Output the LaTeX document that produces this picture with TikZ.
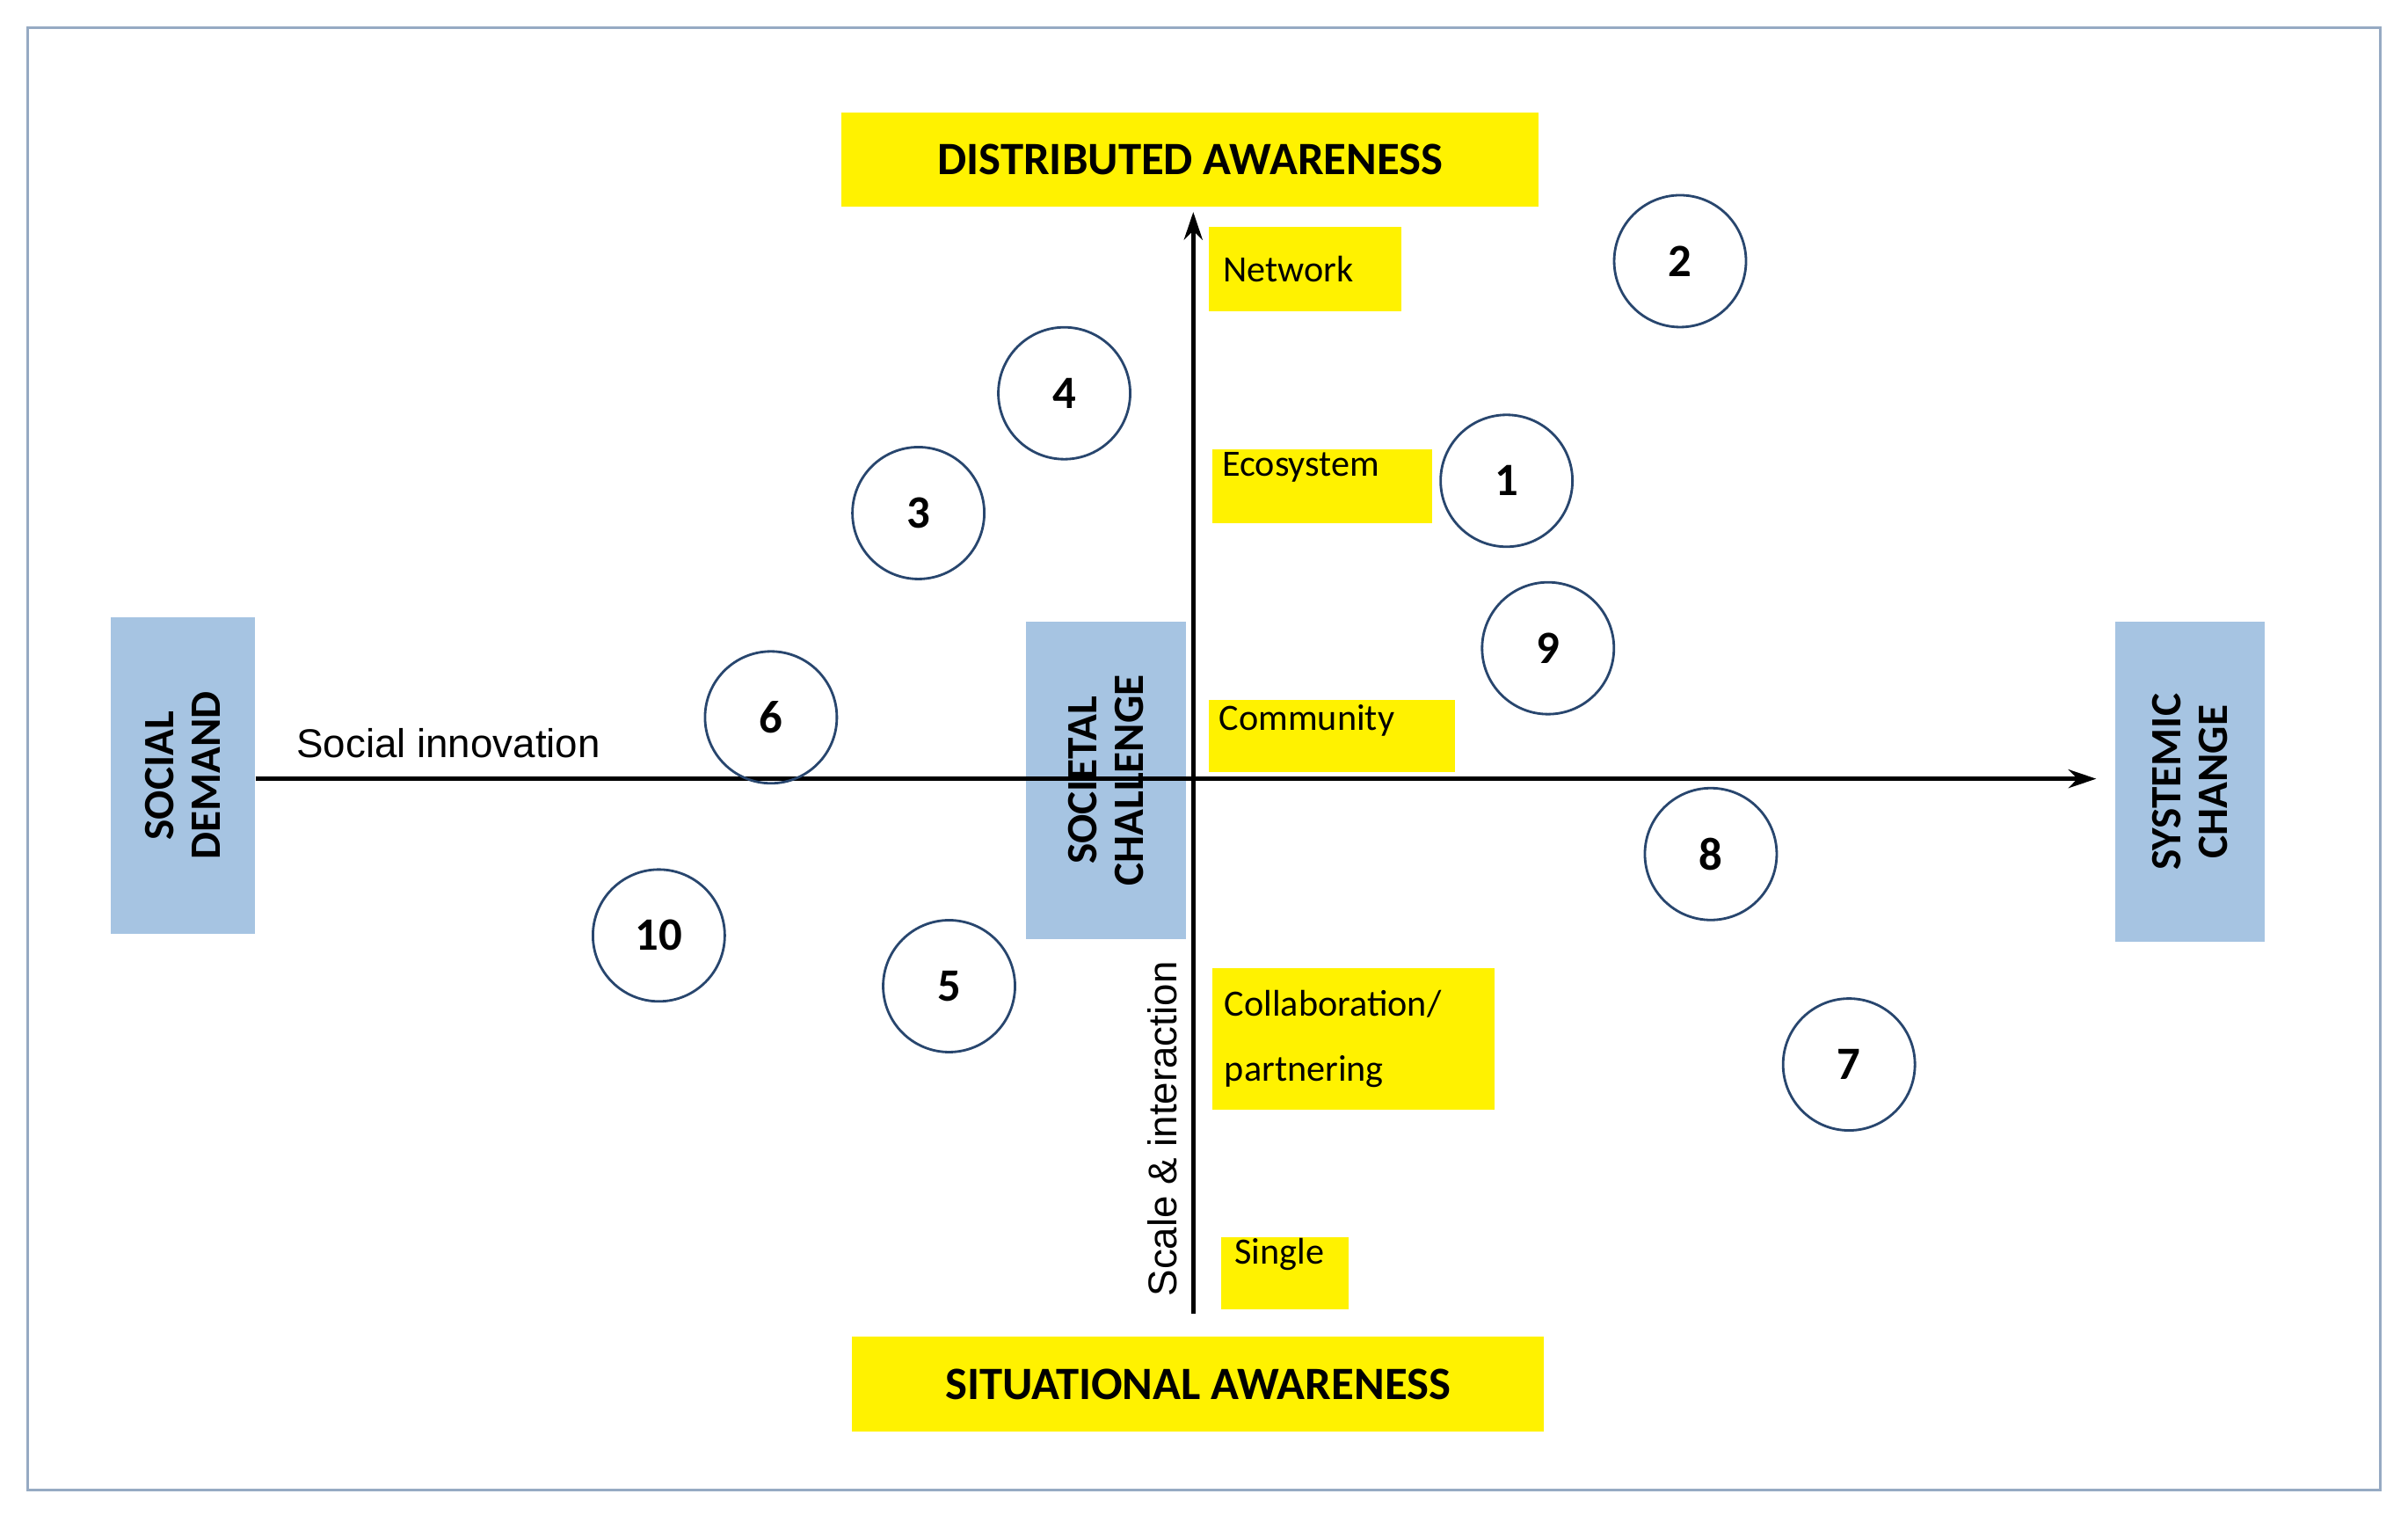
\documentclass[tikz,border=0pt]{standalone}
\usepackage{fontspec}
\setmainfont{Carlito}
\newfontfamily\arialfont{Liberation Sans}
\usetikzlibrary{positioning, arrows.meta}
\definecolor{boxblue}{RGB}{166,196,226}
\definecolor{hiyellow}{RGB}{255,242,0}
\definecolor{ringblue}{RGB}{40,70,110}
\definecolor{framegray}{RGB}{150,170,195}
\begin{document}
\begin{tikzpicture}[x=0.01747cm, y=-0.01747cm,
    yellowbox/.style={fill=hiyellow, inner sep=0pt, font=\fontsize{12}{14}\selectfont, align=left, anchor=north west},
    titlebox/.style={fill=hiyellow, inner sep=0pt, font=\fontsize{15}{17}\selectfont\bfseries},
    bluebox/.style={fill=boxblue, inner sep=0pt, font=\fontsize{14}{15}\selectfont\bfseries, align=center},
    num/.style={circle, draw=ringblue, line width=0.8pt, minimum size=1.5cm, inner sep=0pt, font=\fontsize{15}{17}\selectfont\bfseries},
    axis/.style={line width=1.4pt, -{Stealth[length=9pt,width=6pt]}}
    ]
    \useasboundingbox (0,0) rectangle (1568,991);
    \draw [framegray, line width=1pt] (18,18) rectangle (1550,970);
    % awareness titles
    \node [titlebox, minimum width=454*0.01747cm, minimum height=61*0.01747cm] (distributed) at (775,104) {DISTRIBUTED AWARENESS};
    \node [titlebox, minimum width=451*0.01747cm, minimum height=62*0.01747cm] (situational) at (780,901) {SITUATIONAL AWARENESS};
    % blue boxes
    \node [bluebox, minimum width=206*0.01747cm, minimum height=94*0.01747cm, rotate=90] (demand) at (119,505) {SOCIAL\\DEMAND};
    \node [bluebox, minimum width=207*0.01747cm, minimum height=104*0.01747cm, rotate=90] (challenge) at (720,508) {SOCIETAL\\CHALLENGE};
    \node [bluebox, minimum width=208*0.01747cm, minimum height=97*0.01747cm, rotate=90] (systemic) at (1426,509) {SYSTEMIC\\CHANGE};
    % axes
    \coordinate (vbottom) at (777,855);
    \coordinate (vtop) at (777,138);
    \coordinate (hend) at (1365,507);
    \draw [axis] (vbottom) -- (vtop);
    \draw [axis] (demand.south |- hend) -- (hend);
    \node [font=\arialfont\fontsize{13}{15}\selectfont] (innovation) at (292,484) {Social innovation};
    \node [font=\arialfont\fontsize{13}{15}\selectfont, rotate=90] (scale) at (757,735) {Scale \& interaction};
    % levels
    \node [yellowbox, minimum width=125*0.01747cm, minimum height=55*0.01747cm, text width=115*0.01747cm] (network) at (787,147) {\hspace{2pt}Network};
    \node [yellowbox, minimum width=143*0.01747cm, minimum height=48*0.01747cm, text width=138*0.01747cm] (ecosystem) at (789,292) {\vspace{12pt}\hspace{2pt}Ecosystem};
    \node [yellowbox, minimum width=160*0.01747cm, minimum height=47*0.01747cm, text width=155*0.01747cm] (community) at (787,455) {\vspace{10pt}\hspace{2pt}Community};
    \node [yellowbox, minimum width=184*0.01747cm, minimum height=92*0.01747cm, text width=176*0.01747cm] (collab) at (789,630) {\vspace{8pt}\hspace{2pt}Collaboration/\\[-1pt]\hspace*{2pt}partnering};
    \node [yellowbox, minimum width=83*0.01747cm, minimum height=47*0.01747cm, text width=78*0.01747cm] (single) at (795,805) {\vspace{12pt}\hspace{3pt}Single};
    % numbered cases
    \node [num] (c1) at (981,313) {1};
    \node [num] (c2) at (1094,170) {2};
    \node [num] (c3) at (598,334) {3};
    \node [num] (c4) at (693,256) {4};
    \node [num] (c5) at (618,642) {5};
    \node [num] (c6) at (502,467) {6};
    \node [num] (c7) at (1204,693) {7};
    \node [num] (c8) at (1114,556) {8};
    \node [num] (c9) at (1008,422) {9};
    \node [num] (c10) at (429,609) {10};
\end{tikzpicture}
\end{document}
